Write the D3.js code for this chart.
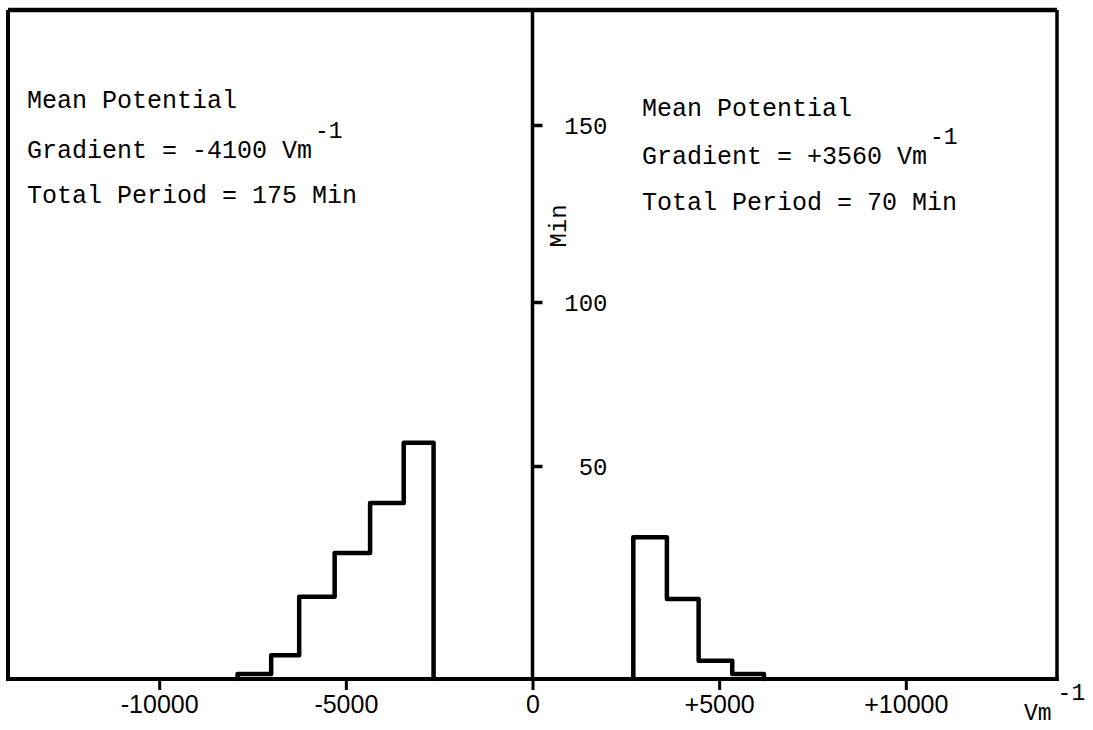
<!DOCTYPE html>
<html>
<head>
<meta charset="utf-8">
<script src="https://cdn.jsdelivr.net/npm/d3@7"></script>
<style>
  html, body { margin: 0; padding: 0; background: #fff; }
  svg { display: block; }
</style>
</head>
<body>
<svg id="chart" width="1093" height="730"></svg>
<script>
// ---- data ----
const negBinEdges = [-7900, -7000, -6250, -5300, -4350, -3450, -2650];
const negMinutes  = [1.2, 5.6, 19.3, 29.6, 41.3, 57.1];
const posBinEdges = [2700, 3600, 4450, 5350, 6200];
const posMinutes  = [33.3, 18.8, 4.3, 1.2];

const xTickValues = [-10000, -5000, 0, 5000, 10000];
const xTickLabels = ["-10000", "-5000", "0", "+5000", "+10000"];
const yTickValues = [50, 100, 150];
const yTickLabels = ["50", "100", "150"];

const leftNote  = ["Mean Potential", "Gradient = -4100 Vm", "Total Period = 175 Min"];
const rightNote = ["Mean Potential", "Gradient = +3560 Vm", "Total Period = 70 Min"];
const xUnit = "Vm";
const yTitle = "Min";

// ---- scales ----
const svg = d3.select("#chart");
const x = d3.scaleLinear().domain([-14050, 14050]).range([8, 1057]);
// the hand-drawn axis is not evenly spaced: piecewise-linear scale through its ticks
const y = d3.scaleLinear().domain([0, 50, 100, 150]).range([679, 466, 302, 125]);
const frameTop = 10;

const mono = "'Liberation Mono', 'DejaVu Sans Mono', monospace";
const ink = "#000";

// ---- frame ----
svg.append("line").attr("x1", x.range()[0]).attr("x2", x.range()[1])
  .attr("y1", frameTop).attr("y2", frameTop).attr("stroke", ink).attr("stroke-width", 4.5);
svg.append("line").attr("x1", x.range()[0]).attr("x2", x.range()[0])
  .attr("y1", frameTop).attr("y2", y(0)).attr("stroke", ink).attr("stroke-width", 4);
svg.append("line").attr("x1", x.range()[1]).attr("x2", x.range()[1])
  .attr("y1", frameTop).attr("y2", y(0)).attr("stroke", ink).attr("stroke-width", 3.5);
svg.append("line").attr("x1", x(0)).attr("x2", x(0))
  .attr("y1", frameTop).attr("y2", y(0)).attr("stroke", ink).attr("stroke-width", 3.5);
svg.append("line").attr("x1", x.range()[0] - 2).attr("x2", x.range()[1] + 2)
  .attr("y1", y(0)).attr("y2", y(0)).attr("stroke", ink).attr("stroke-width", 4);

// ---- x axis ----
const xAxis = d3.axisBottom(x).tickValues(xTickValues)
  .tickFormat((d, i) => xTickLabels[i]).tickSize(11).tickPadding(5);
const gx = svg.append("g").attr("transform", `translate(0,${y(0)})`).call(xAxis);
gx.select(".domain").remove();
gx.selectAll(".tick line").attr("stroke", ink).attr("stroke-width", 3);
gx.selectAll(".tick text").attr("fill", ink)
  .style("font-family", "'Liberation Sans', Arial, sans-serif").style("font-size", "25px");

// ---- y axis ----
const yAxis = d3.axisRight(y).tickValues(yTickValues)
  .tickFormat((d, i) => yTickLabels[i]).tickSize(10);
const gy = svg.append("g").attr("transform", `translate(${x(0)},0)`).call(yAxis);
gy.select(".domain").remove();
gy.selectAll(".tick line").attr("stroke", ink).attr("stroke-width", 3.5);
gy.selectAll(".tick text").attr("fill", ink).attr("x", 75).attr("text-anchor", "end")
  .attr("dy", "0.35em").style("font-family", mono).style("font-size", "24px");

svg.append("text").attr("transform", `translate(${x(0) + 33},226) rotate(-90)`)
  .attr("text-anchor", "middle").attr("fill", ink)
  .style("font-family", mono).style("font-size", "24px").text(yTitle);

// ---- histograms (step outlines) ----
function stepPoints(edges, vals) {
  const pts = [[edges[0], 0]];
  vals.forEach((v, i) => { pts.push([edges[i], v]); pts.push([edges[i + 1], v]); });
  pts.push([edges[edges.length - 1], 0]);
  return pts;
}
const line = d3.line().x(d => x(d[0])).y(d => y(d[1]));
[[negBinEdges, negMinutes], [posBinEdges, posMinutes]].forEach(([e, v]) => {
  svg.append("path").attr("d", line(stepPoints(e, v)))
    .attr("fill", "none").attr("stroke", ink).attr("stroke-width", 4.5)
    .attr("stroke-linejoin", "round").attr("stroke-linecap", "round");
});

// ---- annotations ----
function note(lines, xPos, baselines) {
  lines.forEach((t, i) => {
    const txt = svg.append("text").attr("x", xPos).attr("y", baselines[i]).attr("fill", ink)
      .style("font-family", mono).style("font-size", "25px");
    txt.append("tspan").text(t);
    if (i === 1) {
      txt.append("tspan").attr("dx", 3).attr("dy", -20).style("font-size", "23px").text("-1");
    }
  });
}
note(leftNote, 27, [108, 158, 203]);
note(rightNote, 642, [116, 164, 210]);

// ---- x unit label ----
const unit = svg.append("text").attr("x", 1024).attr("y", 720).attr("fill", ink)
  .style("font-family", mono).style("font-size", "23px");
unit.append("tspan").text(xUnit);
unit.append("tspan").attr("dx", 6).attr("dy", -20).style("font-size", "23px").text("-1");
</script>
</body>
</html>
